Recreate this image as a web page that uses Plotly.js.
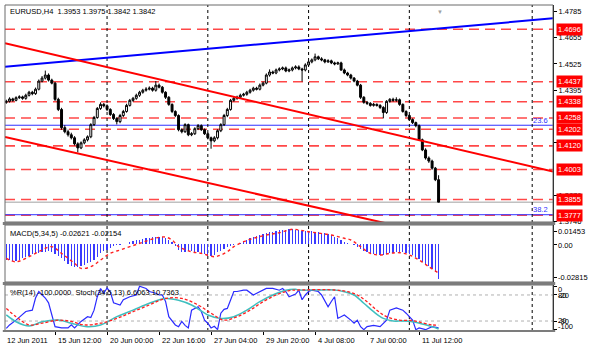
<!DOCTYPE html>
<html><head><meta charset="utf-8">
<script src="https://cdn.plot.ly/plotly-3.0.1.min.js"></script>
<style>html,body{margin:0;padding:0;background:#fff}#chart{width:600px;height:355px}</style>
</head><body><div id="chart"></div>
<script>
// ---- DATA ----
const xLabelBars = [0.62,16,32,48,64,80,96,112,128];
const xLabelText = ["12 Jun 2011","15 Jun 12:00","20 Jun 00:00","22 Jun 16:00","27 Jun 04:00","29 Jun 20:00","4 Jul 08:00","7 Jul 00:00","11 Jul 12:00"];
const separatorBars = [32,63,94,125,162.8];

const openP = [1.4335,1.4340,1.4352,1.4345,1.4358,1.4362,1.4355,1.4370,1.4385,1.4378,1.4400,1.4440,1.4455,1.4470,1.4445,1.4430,1.4350,1.4300,1.4210,1.4190,1.4175,1.4160,1.4130,1.4110,1.4135,1.4150,1.4165,1.4225,1.4260,1.4305,1.4325,1.4318,1.4300,1.4275,1.4255,1.4240,1.4270,1.4290,1.4320,1.4345,1.4355,1.4370,1.4385,1.4395,1.4400,1.4405,1.4395,1.4420,1.4410,1.4385,1.4360,1.4325,1.4290,1.4270,1.4200,1.4190,1.4225,1.4175,1.4180,1.4205,1.4220,1.4200,1.4180,1.4160,1.4145,1.4160,1.4195,1.4225,1.4270,1.4300,1.4345,1.4355,1.4360,1.4370,1.4375,1.4385,1.4395,1.4405,1.4400,1.4420,1.4430,1.4470,1.4485,1.4480,1.4495,1.4500,1.4505,1.4490,1.4495,1.4505,1.4510,1.4500,1.4495,1.4520,1.4535,1.4545,1.4560,1.4550,1.4545,1.4535,1.4540,1.4530,1.4525,1.4530,1.4495,1.4480,1.4470,1.4455,1.4440,1.4420,1.4360,1.4335,1.4330,1.4320,1.4325,1.4320,1.4310,1.4285,1.4340,1.4350,1.4345,1.4348,1.4325,1.4290,1.4270,1.4250,1.4235,1.4220,1.4150,1.4100,1.4060,1.4045,1.4010,1.3953];
const highP = [1.4348,1.4360,1.4358,1.4365,1.4370,1.4368,1.4378,1.4392,1.4392,1.4408,1.4448,1.4465,1.4492,1.4478,1.4452,1.4436,1.4358,1.4308,1.4222,1.4200,1.4185,1.4168,1.4138,1.4142,1.4158,1.4172,1.4232,1.4268,1.4312,1.4335,1.4332,1.4325,1.4306,1.4282,1.4262,1.4278,1.4298,1.4328,1.4352,1.4362,1.4378,1.4392,1.4402,1.4410,1.4414,1.4412,1.4440,1.4428,1.4416,1.4390,1.4366,1.4330,1.4296,1.4276,1.4206,1.4232,1.4230,1.4188,1.4212,1.4228,1.4226,1.4206,1.4186,1.4166,1.4168,1.4202,1.4232,1.4278,1.4308,1.4352,1.4362,1.4368,1.4378,1.4382,1.4392,1.4402,1.4412,1.4412,1.4428,1.4438,1.4478,1.4498,1.4492,1.4502,1.4508,1.4512,1.4512,1.4502,1.4512,1.4518,1.4518,1.4506,1.4528,1.4542,1.4552,1.4576,1.4566,1.4558,1.4550,1.4548,1.4546,1.4536,1.4536,1.4536,1.4502,1.4486,1.4476,1.4460,1.4446,1.4426,1.4366,1.4342,1.4336,1.4332,1.4330,1.4326,1.4316,1.4346,1.4356,1.4358,1.4360,1.4354,1.4330,1.4296,1.4276,1.4256,1.4240,1.4226,1.4156,1.4108,1.4068,1.4052,1.4016,1.3975];
const lowP = [1.4328,1.4334,1.4338,1.4340,1.4352,1.4348,1.4348,1.4364,1.4370,1.4372,1.4394,1.4434,1.4448,1.4438,1.4424,1.4342,1.4292,1.4200,1.4182,1.4166,1.4152,1.4122,1.4088,1.4104,1.4128,1.4142,1.4158,1.4218,1.4254,1.4298,1.4310,1.4292,1.4268,1.4248,1.4226,1.4232,1.4262,1.4284,1.4314,1.4338,1.4348,1.4362,1.4378,1.4388,1.4394,1.4388,1.4388,1.4404,1.4378,1.4352,1.4318,1.4282,1.4262,1.4192,1.4182,1.4184,1.4168,1.4168,1.4174,1.4198,1.4194,1.4174,1.4152,1.4106,1.4138,1.4152,1.4188,1.4218,1.4262,1.4294,1.4338,1.4348,1.4354,1.4364,1.4368,1.4378,1.4388,1.4394,1.4394,1.4414,1.4424,1.4462,1.4474,1.4474,1.4488,1.4494,1.4484,1.4484,1.4488,1.4498,1.4494,1.4438,1.4488,1.4514,1.4528,1.4538,1.4544,1.4538,1.4528,1.4530,1.4524,1.4518,1.4520,1.4490,1.4474,1.4464,1.4448,1.4434,1.4414,1.4352,1.4328,1.4322,1.4314,1.4314,1.4314,1.4302,1.4256,1.4278,1.4334,1.4338,1.4338,1.4318,1.4284,1.4262,1.4244,1.4228,1.4212,1.4144,1.4094,1.4052,1.4036,1.4002,1.3946,1.3842];
const closeP = [1.4340,1.4352,1.4345,1.4358,1.4362,1.4355,1.4370,1.4385,1.4378,1.4400,1.4440,1.4455,1.4470,1.4445,1.4430,1.4350,1.4300,1.4210,1.4190,1.4175,1.4160,1.4130,1.4110,1.4135,1.4150,1.4165,1.4225,1.4260,1.4305,1.4325,1.4318,1.4300,1.4275,1.4255,1.4240,1.4270,1.4290,1.4320,1.4345,1.4355,1.4370,1.4385,1.4395,1.4400,1.4405,1.4395,1.4420,1.4410,1.4385,1.4360,1.4325,1.4290,1.4270,1.4200,1.4190,1.4225,1.4175,1.4180,1.4205,1.4220,1.4200,1.4180,1.4160,1.4145,1.4160,1.4195,1.4225,1.4270,1.4300,1.4345,1.4355,1.4360,1.4370,1.4375,1.4385,1.4395,1.4405,1.4400,1.4420,1.4430,1.4470,1.4485,1.4480,1.4495,1.4500,1.4505,1.4490,1.4495,1.4505,1.4510,1.4500,1.4495,1.4520,1.4535,1.4545,1.4560,1.4550,1.4545,1.4535,1.4540,1.4530,1.4525,1.4530,1.4495,1.4480,1.4470,1.4455,1.4440,1.4420,1.4360,1.4335,1.4330,1.4320,1.4325,1.4320,1.4310,1.4285,1.4340,1.4350,1.4345,1.4348,1.4325,1.4290,1.4270,1.4250,1.4235,1.4220,1.4150,1.4100,1.4060,1.4045,1.4010,1.3953,1.3842];

const macdHist = [-0.0115,-0.012,-0.0125,-0.0125,-0.012,-0.0105,-0.0095,-0.0085,-0.0075,-0.0068,-0.0062,-0.0058,-0.0054,-0.005,-0.0055,-0.007,-0.009,-0.0105,-0.0125,-0.0145,-0.0165,-0.0172,-0.0172,-0.016,-0.0152,-0.014,-0.0128,-0.0115,-0.0095,-0.0065,-0.005,-0.004,-0.0028,-0.0015,-0.0008,-0.0004,0.0,0.0006,0.0015,0.0022,0.003,0.0036,0.004,0.0045,0.005,0.0053,0.0056,0.0057,0.0055,0.005,0.0036,0.002,-0.0015,-0.0045,-0.006,-0.0055,-0.005,-0.005,-0.0055,-0.006,-0.0065,-0.0075,-0.0085,-0.0087,-0.0078,-0.006,-0.0048,-0.0032,-0.002,-0.001,-0.0003,0.0004,0.001,0.0022,0.0035,0.005,0.0058,0.0066,0.0074,0.008,0.0086,0.0091,0.0096,0.0101,0.0106,0.0109,0.0111,0.0112,0.0112,0.011,0.0107,0.0104,0.0102,0.0101,0.0099,0.0094,0.009,0.0086,0.0082,0.0077,0.007,0.0058,0.0045,0.0035,0.0018,0.001,0.0004,-0.0008,-0.0022,-0.0035,-0.0046,-0.0055,-0.0064,-0.0072,-0.0075,-0.0076,-0.0076,-0.0073,-0.0068,-0.0062,-0.006,-0.0059,-0.006,-0.0063,-0.0072,-0.0082,-0.0095,-0.011,-0.0128,-0.0148,-0.0165,-0.0185,-0.0205,-0.0262];
const macdSigBars = [1,4,8,12,15,18,22,24,27,30,33,36,39,42,45,48,50,52,54,58,61,65,67,69,71,74,77,81,85,89,91,94,101,105,107,110,113,116,119,122,125,128,131,134];
const macdSig = [-0.0104,-0.013,-0.0092,-0.0042,-0.0017,-0.0067,-0.0142,-0.0179,-0.0167,-0.0117,-0.0067,-0.0042,-0.0017,0.0008,0.0033,0.0053,0.0055,0.0033,-0.0017,-0.0055,-0.0067,-0.0092,-0.0079,-0.0055,-0.0017,0.002,0.0046,0.007,0.0088,0.0113,0.0108,0.0095,0.007,0.0046,0.0033,-0.0017,-0.0067,-0.0079,-0.0067,-0.0062,-0.0079,-0.0117,-0.0167,-0.0215];

const wprBars = [1,2,4,7,9,10,11,13,14,15,16,18,20,21,22,24,26,27,28,29,30,31,32,33,34,36,37,39,41,42,44,45,47,48,49,50,51,53,54,55,56,57,58,60,61,62,63,64,65,66,67,68,69,71,72,74,75,77,79,81,83,85,86,87,88,90,91,92,93,94,95,97,98,100,101,102,103,105,107,108,109,110,111,112,114,116,118,119,121,123,124,125,126,127,128,130,132,134];
const wprVal = [-97,-89,-78,-58,-55,-27,-12,-27,-38,-66,-93,-96,-96,-89,-96,-81,-70,-72,-55,-24,-5,-16,-4,-13,-38,-43,-31,-24,-20,0,-5,-12,-16,-20,-20,-35,-70,-89,-93,-81,-90,-96,-55,-47,-58,-78,-85,-96,-92,-100,-62,-53,-51,-12,-12,-9,-9,-20,-12,-5,-5,-9,-5,-12,-24,-18,-9,-31,-20,-12,-9,-12,-20,-47,-35,-24,-74,-66,-78,-85,-78,-93,-100,-93,-90,-93,-78,-55,-50,-55,-62,-70,-78,-100,-96,-100,-93,-96,-100];
const stochBars = [1,4,8,12,17,21,26,30,35,40,45,50,54,58,63,67,71,75,79,83,87,90,91,97,102,105,108,111,114,117,120,123,126,129,132,134];
const stochMain = [34,18.4,8.5,18.4,22.4,14.7,6.9,10.8,30,45,61,72,68,57,34,26,30,45,64.5,80,91,93,91.5,91.5,91.5,87.6,80,61,41.5,26,20,20,18.4,13,7,1.5];
const stochSigBars = [1,4,8,12,17,21,25,30,35,40,45,50,55,60,64,68,72,76,80,84,88,91,102,106,109,112,115,118,122,126,129,132,134];
const stochSig = [49,30,11,15,22,19,11,15,26,41.5,57,72,72,57,38,22,30,45,64.5,80,90,91.5,91.5,87.6,80,64.5,45,30,22,21,16,11,10.7];

const yTickVals = [1.4785,1.4655,1.4525,1.4395,1.4136,1.3876,1.3746];
const levelPrices = [1.4696,1.4437,1.4338,1.4258,1.4202,1.4120,1.4003,1.3855,1.3777];
const fibPrices = [1.4222,1.3780];
const fibLabels = ["23.6","38.2"];
const bidPrice = 1.3842;
const blueTrend = {x:[0.6,169.2], y:[1.4511,1.4750]};
const redUpper = {x:[0.6,169.2], y:[1.4627,1.3993]};
const redLower = {x:[0.6,169.2], y:[1.4164,1.3551]};

const titleMain = "EURUSD,H4  1.3953 1.3975 1.3842 1.3842";
const titleMacd = "MACD(5,34,5) -0.02621 -0.02154";
const titleStoch = "%R(14) -100.0000  Stoch(34,5,13) 6.6063 10.7363";

// ---- LAYOUT HELPERS (pixel -> paper) ----
const TOP=5, BOT=331;
const py = Y => (BOT - Y)/(BOT - TOP);
const FONT = "Liberation Sans, Arial, sans-serif";
const fs = 7.5;

const bars = closeP.map((_,k)=>k+1);

const traces = [
  {type:'candlestick', x:bars, open:openP, high:highP, low:lowP, close:closeP, xaxis:'x', yaxis:'y',
   increasing:{line:{color:'#000',width:1}, fillcolor:'#ffffff'},
   decreasing:{line:{color:'#000',width:1}, fillcolor:'#000000'}, whiskerwidth:0, hoverinfo:'skip'},
  {type:'scatter', mode:'lines', x:blueTrend.x, y:blueTrend.y, line:{color:'#0000ff',width:2}, yaxis:'y', hoverinfo:'skip'},
  {type:'scatter', mode:'lines', x:redUpper.x, y:redUpper.y, line:{color:'#ff0000',width:2}, yaxis:'y', hoverinfo:'skip'},
  {type:'scatter', mode:'lines', x:redLower.x, y:redLower.y, line:{color:'#ff0000',width:2}, yaxis:'y', hoverinfo:'skip'},
  {type:'bar', x:bars, y:macdHist, yaxis:'y2', marker:{color:'#3a3aff', line:{width:0}}, width:0.38, hoverinfo:'skip'},
  {type:'scatter', mode:'lines', x:macdSigBars, y:macdSig, yaxis:'y2', line:{color:'#ff2020',width:1.4,dash:'dot',shape:'spline'}, hoverinfo:'skip'},
  {type:'scatter', mode:'lines', x:stochBars, y:stochMain, yaxis:'y4', line:{color:'#3fbfbf',width:1.5,shape:'spline'}, hoverinfo:'skip'},
  {type:'scatter', mode:'lines', x:stochSigBars, y:stochSig, yaxis:'y4', line:{color:'#ff2020',width:1.3,dash:'3px,2px',shape:'spline'}, hoverinfo:'skip'},
  {type:'scatter', mode:'lines', x:wprBars, y:wprVal, yaxis:'y3', line:{color:'#2a2aff',width:1.2}, hoverinfo:'skip'}
];

const shapes = [];
levelPrices.forEach(p=>shapes.push({type:'line',xref:'paper',yref:'y',x0:0,x1:1,y0:p,y1:p,line:{color:'#ff4848',width:1.6,dash:'10px,6px'},layer:'below'}));
fibPrices.forEach(p=>shapes.push({type:'line',xref:'paper',yref:'y',x0:0,x1:1,y0:p,y1:p,line:{color:'#3030ff',width:1},layer:'below'}));
shapes.push({type:'line',xref:'paper',yref:'y',x0:0,x1:1,y0:bidPrice,y1:bidPrice,line:{color:'#a0a0a0',width:1},layer:'below'});
[-20,-80].forEach(v=>shapes.push({type:'line',xref:'paper',yref:'y3',x0:0,x1:1,y0:v,y1:v,line:{color:'#b0b0b0',width:1,dash:'dot'},layer:'below'}));
separatorBars.forEach(b=>shapes.push({type:'line',xref:'x',yref:'paper',x0:b,x1:b,y0:0,y1:1,line:{color:'#000',width:1,dash:'dot'},layer:'below'}));
[[5,222],[225,282],[285,331]].forEach(([a,b])=>shapes.push({type:'rect',xref:'paper',yref:'paper',x0:0,x1:1,y0:py(b),y1:py(a),line:{color:'#6a6a6a',width:1},fillcolor:'rgba(0,0,0,0)',layer:'above'}));
[[222,225],[282,285]].forEach(([a,b])=>shapes.push({type:'rect',xref:'paper',yref:'paper',x0:-0.004,x1:1.004,y0:py(b),y1:py(a),line:{width:0},fillcolor:'#7c7c7c',layer:'above'}));
shapes.push({type:'rect',xref:'paper',yref:'paper',x0:-0.004,x1:1.004,y0:py(332),y1:py(330),line:{width:0},fillcolor:'#7c7c7c',layer:'above'});

const ann = [];
const txt = (x,y,t,extra)=>Object.assign({xref:'paper',yref:'paper',x:x,y:y,text:t,showarrow:false,xanchor:'left',yanchor:'middle',font:{family:FONT,size:fs,color:'#000'}},extra||{});
ann.push(txt(0.006,py(12),titleMain));
ann.push(txt(0.006,py(233),titleMacd));
ann.push(txt(0.006,py(292),titleStoch));
xLabelBars.forEach((b,k)=>ann.push({xref:'x',yref:'paper',x:b,y:py(340),text:xLabelText[k],showarrow:false,xanchor:'left',yanchor:'middle',xshift:(k===0?0:1),font:{family:FONT,size:fs,color:'#000'}}));
levelPrices.forEach(p=>ann.push({xref:'paper',yref:'y',x:1,y:p,xshift:3,text:p.toFixed(4),showarrow:false,xanchor:'left',yanchor:'middle',bgcolor:'#ff0000',borderpad:1,font:{family:FONT,size:fs,color:'#fff'}}));
fibPrices.forEach((p,k)=>ann.push({xref:'paper',yref:'y',x:0.995,y:p,yshift:5,text:fibLabels[k],showarrow:false,xanchor:'right',yanchor:'middle',font:{family:FONT,size:fs,color:'#3030ff'}}));
[[231.7,'0.01453'],[245,'0.00'],[277.3,'-0.02815']].forEach(([Y,t])=>ann.push(txt(1,py(Y),t,{xshift:3})));
[[289,'0'],[295,'-20'],[295.5,'80'],[320.5,'20'],[321,'-80'],[326.5,'-100']].forEach(([Y,t])=>ann.push(txt(1,py(Y),t,{xshift:3})));
ann.push({xref:'x',yref:'paper',x:134.5,y:py(7),text:'▼',showarrow:false,font:{family:FONT,size:6,color:'#a0a0a0'}});

const axCommon = {showgrid:false, zeroline:false, fixedrange:true};
const layout = {
  width:600, height:355, margin:{l:5,r:47,t:5,b:24},
  paper_bgcolor:'#fff', plot_bgcolor:'#fff', showlegend:false, bargap:0, boxgap:0.15,
  font:{family:FONT,size:fs,color:'#000'},
  xaxis:Object.assign({}, axCommon, {range:[0.6,169.2], anchor:'y3', rangeslider:{visible:false},
    tickvals:xLabelBars.slice(1), showticklabels:false, ticks:'outside', ticklen:3, tickcolor:'#000', showline:false}),
  yaxis:Object.assign({}, axCommon, {domain:[py(222),1], range:[1.3744,1.4816], side:'right', anchor:'x',
    tickvals:yTickVals, ticktext:yTickVals.map(v=>v.toFixed(4)), ticks:'outside', ticklen:3, tickcolor:'#000',
    showline:true, linecolor:'#000', linewidth:1, tickfont:{family:FONT,size:fs,color:'#000'}}),
  yaxis2:Object.assign({}, axCommon, {domain:[py(282),py(225)], range:[-0.02815,0.01453], side:'right', anchor:'x',
    tickvals:[0.0095,0,-0.0246], showticklabels:false, ticks:'outside', ticklen:3, tickcolor:'#000', showline:true, linecolor:'#000'}),
  yaxis3:Object.assign({}, axCommon, {domain:[0,py(285)], range:[-103,3], side:'right', anchor:'x',
    tickvals:[0,-20,-80,-100], showticklabels:false, ticks:'outside', ticklen:3, tickcolor:'#000', showline:true, linecolor:'#000'}),
  yaxis4:Object.assign({}, axCommon, {domain:[0,py(285)], range:[-3,103], overlaying:'y3', anchor:'x', visible:false}),
  shapes:shapes, annotations:ann
};
Plotly.newPlot('chart', traces, layout, {staticPlot:true, displayModeBar:false});
</script></body></html>
